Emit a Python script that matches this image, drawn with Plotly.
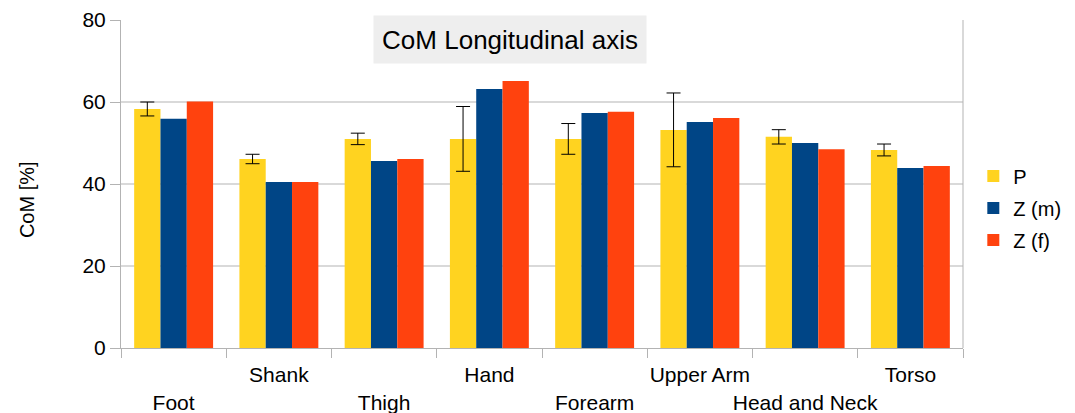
import plotly.graph_objects as go

categories = ["Foot", "Shank", "Thigh", "Hand", "Forearm", "Upper Arm", "Head and Neck", "Torso"]
tick_labels = ["<br>Foot", "Shank", "<br>Thigh", "Hand", "<br>Forearm", "Upper Arm", "<br>Head and Neck", "Torso"]
p_values = [58.3, 46.1, 51.0, 51.0, 51.0, 53.2, 51.5, 48.3]
p_errors = [1.7, 1.15, 1.4, 7.9, 3.75, 9.0, 1.75, 1.45]
zm_values = [55.9, 40.5, 45.6, 63.2, 57.3, 55.1, 50.0, 43.9]
zf_values = [60.1, 40.5, 46.1, 65.1, 57.6, 56.1, 48.5, 44.4]

font_family = "Liberation Sans, Arial, sans-serif"

fig = go.Figure()
fig.add_trace(go.Bar(
    x=categories, y=p_values, name="P", marker_color="#ffd320", marker_line_width=0,
    legendgroup="p",
    error_y=dict(type="data", array=p_errors, visible=True, color="black", thickness=1, width=7),
))
fig.add_trace(go.Bar(x=categories, y=zm_values, name="Z (m)", marker_color="#004586",
                     marker_line_width=0, legendgroup="zm"))
fig.add_trace(go.Bar(x=categories, y=zf_values, name="Z (f)", marker_color="#ff420e",
                     marker_line_width=0, legendgroup="zf"))

fig.update_layout(
    width=1067, height=405,
    margin=dict(l=113, r=112, t=12, b=65, autoexpand=False),
    paper_bgcolor="white", plot_bgcolor="white",
    font=dict(family=font_family, size=20, color="black"),
    barmode="group", bargap=0.25, bargroupgap=0,
    showlegend=True,
    legend=dict(xref="container", yref="container", x=0.9047, y=0.506,
                xanchor="left", yanchor="middle",
                font=dict(size=20), tracegroupgap=3, itemwidth=30),
    annotations=[
        dict(
            text="CoM Longitudinal axis", x=0.462, y=0.9405, xref="paper", yref="paper",
            xanchor="center", yanchor="middle", showarrow=False,
            font=dict(size=26, family=font_family, color="black"),
            bgcolor="#eeeeee", width=270, height=45,
        ),
        dict(
            text="CoM [%]", x=-0.1116, y=0.451, xref="paper", yref="paper",
            xanchor="center", yanchor="middle", showarrow=False, textangle=-90,
            font=dict(size=20, family=font_family, color="black"),
        ),
    ],
)

fig.update_xaxes(
    tickmode="array", tickvals=categories, ticktext=tick_labels, automargin=False,
    tickson="boundaries", ticks="outside", ticklen=9, tickcolor="#b3b3b3", tickwidth=1,
    ticklabelstandoff=8,
    showline=True, linecolor="#b3b3b3", linewidth=1, mirror=False,
    showgrid=False, tickfont=dict(size=21), tickangle=0,
)
fig.update_yaxes(
    range=[0, 80], dtick=20, ticks="outside", ticklen=10, tickcolor="#b3b3b3",
    showline=True, linecolor="#b3b3b3", linewidth=1, automargin=False,
    showgrid=True, gridcolor="#d9d9d9", gridwidth=2,
    zeroline=False, tickfont=dict(size=21),
)
# right border of plot area
fig.add_shape(type="line", xref="paper", yref="paper", x0=1, x1=1, y0=0, y1=1,
              line=dict(color="#b3b3b3", width=1))

fig.write_html("out.html")
